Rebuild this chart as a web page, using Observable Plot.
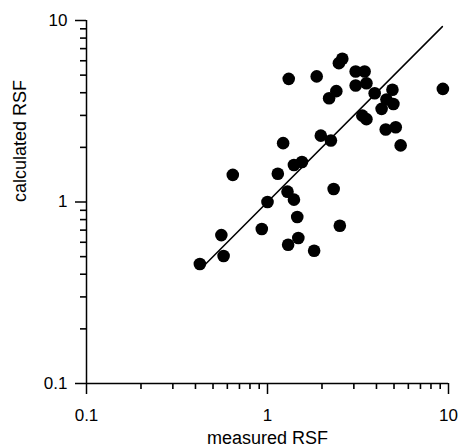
<!DOCTYPE html>
<html>
<head>
<meta charset="utf-8">
<script src="https://cdn.jsdelivr.net/npm/d3@7"></script>
<script src="https://cdn.jsdelivr.net/npm/@observablehq/plot@0.6"></script>
<style>
  html, body { margin: 0; padding: 0; background: #fff; }
  svg { display: block; }
</style>
</head>
<body>
<div id="chart"></div>
<script>
// measured vs calculated RSF
const measured = [2.59, 2.48, 1.31, 1.87, 3.07, 3.44, 3.07, 3.52, 2.40, 2.19,
                  3.91, 4.90, 4.54, 4.96, 4.27, 9.31, 3.34, 3.52, 4.50, 5.11,
                  5.44, 1.97, 2.24, 1.22, 1.40, 1.55, 1.14, 0.643, 2.32, 1.29,
                  1.40, 1.00, 1.46, 0.93, 0.556, 1.48, 1.30, 1.81, 2.51, 0.572, 0.423];
const calculated = [6.15, 5.82, 4.77, 4.92, 5.24, 5.24, 4.38, 4.51, 4.08, 3.73,
                    3.97, 4.15, 3.67, 3.47, 3.26, 4.20, 2.99, 2.86, 2.51, 2.58,
                    2.05, 2.32, 2.18, 2.11, 1.60, 1.66, 1.43, 1.41, 1.18, 1.14,
                    1.03, 1.00, 0.826, 0.71, 0.657, 0.633, 0.581, 0.539, 0.740, 0.504, 0.455];
// 1:1 reference line endpoints
const lineX = [0.43, 9.25];
// axis ticks
const majorTicks = [0.1, 1, 10];
const majorLabels = ["0.1", "1", "10"];
const minorTicks = [0.2, 0.3, 0.4, 0.5, 0.6, 0.7, 0.8, 0.9, 2, 3, 4, 5, 6, 7, 8, 9];
const xTitle = "measured RSF";
const yTitle = "calculated RSF";

const W = 458, H = 447, ML = 86, MR = 10, MT = 20, MB = 64;
const decadePx = (W - ML - MR) / 2;      // pixels per decade
const minorLenPx = 6;                     // minor tick length
const axisMin = 0.1;
const minorEnd = axisMin / Math.pow(10, minorLenPx / decadePx);

const points = measured.map((m, i) => ({m, c: calculated[i]}));
const fmt = d => majorLabels[majorTicks.indexOf(d)];

const chart = Plot.plot({
  width: W,
  height: H,
  marginLeft: ML,
  marginRight: MR,
  marginTop: MT,
  marginBottom: MB,
  style: {fontFamily: "'Liberation Sans', Arial, Helvetica, sans-serif", background: "white", color: "black"},
  x: {type: "log", domain: [0.1, 10]},
  y: {type: "log", domain: [0.1, 10]},
  marks: [
    Plot.axisX(majorTicks, {tickSize: 11, tickPadding: 14, tickFormat: fmt, fontSize: 17, stroke: "black", strokeWidth: 1.5, label: null}),
    Plot.axisY(majorTicks, {tickSize: 11, tickPadding: 8, tickFormat: fmt, fontSize: 17, stroke: "black", strokeWidth: 1.5, label: null}),
    // minor ticks (short, outward), drawn as rules through the scales
    Plot.ruleX(minorTicks, {x: d => d, y1: axisMin, y2: minorEnd, stroke: "black", strokeWidth: 1.6}),
    Plot.ruleY(minorTicks, {y: d => d, x1: axisMin, x2: minorEnd, stroke: "black", strokeWidth: 1.6}),
    Plot.ruleY([0.1], {stroke: "black", strokeWidth: 1.5}),
    Plot.ruleX([0.1], {stroke: "black", strokeWidth: 1.5}),
    Plot.line(lineX.map(v => ({v})), {x: "v", y: "v", stroke: "black", strokeWidth: 1.5}),
    Plot.dot(points, {x: "m", y: "c", r: 6.3, fill: "black", stroke: "none"}),
    Plot.text([xTitle], {frameAnchor: "bottom", lineAnchor: "middle", dy: 55, fontSize: 18, fill: "black"}),
    Plot.text([yTitle], {frameAnchor: "left", lineAnchor: "middle", rotate: -90, dx: -66, fontSize: 18, fill: "black"})
  ]
});
document.getElementById("chart").appendChild(chart);
</script>
</body>
</html>
